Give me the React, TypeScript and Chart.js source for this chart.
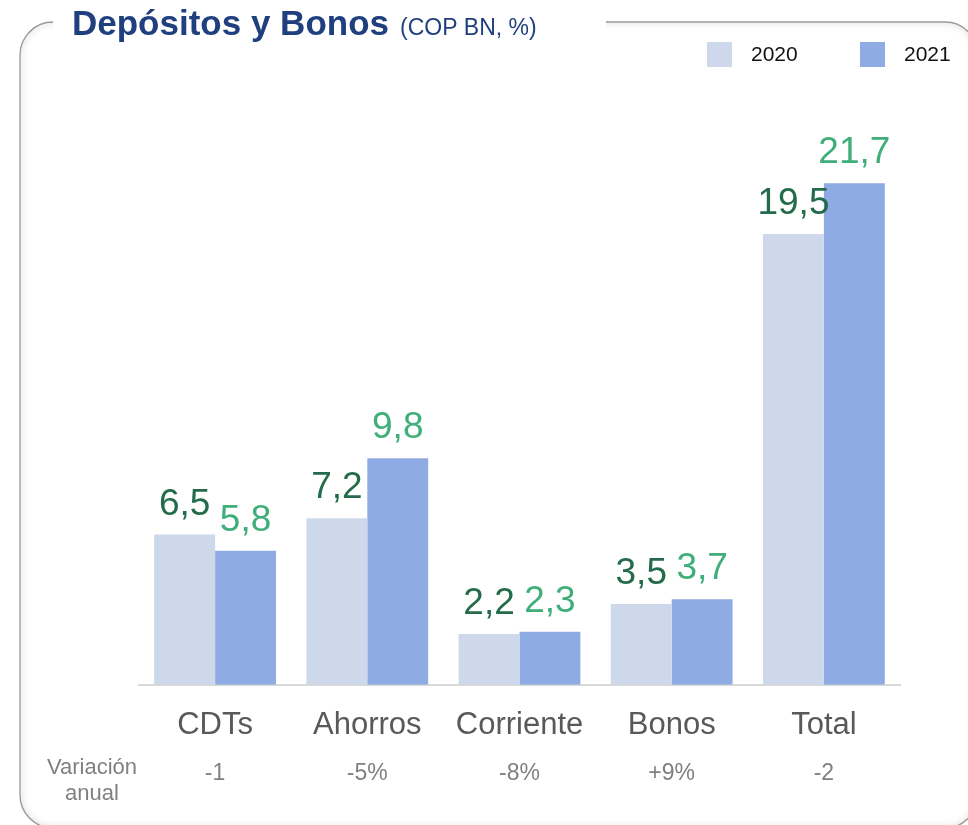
import React, { useEffect, useRef } from "react";
import { Chart, registerables } from "chart.js";

Chart.register(...registerables);

const categories = ["CDTs", "Ahorros", "Corriente", "Bonos", "Total"];
const values2020 = [6.5, 7.2, 2.2, 3.5, 19.5];
const values2021 = [5.8, 9.8, 2.3, 3.7, 21.7];
const variacion = ["-1", "-5%", "-8%", "+9%", "-2"];
const seriesLabels = ["2020", "2021"];
const titleMain = "Depósitos y Bonos";
const titleSub = "(COP BN, %)";
const rowLabel = ["Variación", "anual"];

const FONT = "'Liberation Sans', Arial, Helvetica, sans-serif";
const C2020 = "#CDD8EA";
const C2021 = "#8EACE3";
const L2020 = "#246B4B";
const L2021 = "#3FAE78";

function roundRectPath(ctx: CanvasRenderingContext2D, x: number, y: number, w: number, h: number, r: number) {
  ctx.beginPath();
  ctx.moveTo(x + r, y);
  ctx.lineTo(x + w - r, y);
  ctx.arcTo(x + w, y, x + w, y + r, r);
  ctx.lineTo(x + w, y + h - r);
  ctx.arcTo(x + w, y + h, x + w - r, y + h, r);
  ctx.lineTo(x + r, y + h);
  ctx.arcTo(x, y + h, x, y + h - r, r);
  ctx.lineTo(x, y + r);
  ctx.arcTo(x, y, x + r, y, r);
  ctx.closePath();
}

const framePlugin = {
  id: "frame",
  beforeDraw(chart: any) {
    const ctx: CanvasRenderingContext2D = chart.ctx;
    const bx = 20, by = 22, bw = 958, bh = 806, br = 33;
    ctx.save();
    ctx.fillStyle = "#ffffff";
    ctx.fillRect(0, 0, chart.width, chart.height);
    // inner shadow
    ctx.save();
    roundRectPath(ctx, bx, by, bw, bh, br);
    ctx.clip();
    ctx.shadowColor = "rgba(0,0,0,0.14)";
    ctx.shadowBlur = 10;
    ctx.lineWidth = 12;
    ctx.strokeStyle = "rgba(0,0,0,1)";
    roundRectPath(ctx, bx - 6, by - 6, bw + 12, bh + 12, br + 6);
    ctx.stroke();
    ctx.restore();
    // border line
    roundRectPath(ctx, bx, by, bw, bh, br);
    ctx.lineWidth = 1.3;
    ctx.strokeStyle = "#9A9A9A";
    ctx.stroke();
    // gap for title
    ctx.fillStyle = "#ffffff";
    ctx.fillRect(53, 0, 553, 45);
    ctx.restore();
  },
  afterDraw(chart: any) {
    const ctx: CanvasRenderingContext2D = chart.ctx;
    const xs = chart.scales.x;
    ctx.save();
    // title
    ctx.textBaseline = "alphabetic";
    ctx.textAlign = "left";
    ctx.fillStyle = "#1F3F7E";
    ctx.font = `bold 35px ${FONT}`;
    ctx.fillText(titleMain, 72, 35);
    const w = ctx.measureText(titleMain).width;
    ctx.font = `23px ${FONT}`;
    ctx.fillText(titleSub, 72 + w + 11, 35);

    // legend
    const colors = [C2020, C2021];
    const lx = [707, 860];
    chart.data.datasets.forEach((ds: any, i: number) => {
      ctx.fillStyle = colors[i];
      ctx.fillRect(lx[i], 42, 25, 25);
      ctx.fillStyle = "#111111";
      ctx.font = `21px ${FONT}`;
      ctx.textBaseline = "middle";
      ctx.fillText(ds.label, lx[i] + 44, 55);
    });

    // data labels
    ctx.textAlign = "center";
    ctx.textBaseline = "alphabetic";
    ctx.font = `37px ${FONT}`;
    const lcol = [L2020, L2021];
    chart.data.datasets.forEach((ds: any, di: number) => {
      const meta = chart.getDatasetMeta(di);
      meta.data.forEach((bar: any, i: number) => {
        ctx.fillStyle = lcol[di];
        ctx.fillText(String(ds.data[i]).replace(".", ","), bar.x, bar.y - 20);
      });
    });

    // variation row
    ctx.fillStyle = "#808080";
    ctx.font = `23px ${FONT}`;
    variacion.forEach((v, i) => {
      ctx.fillText(v, xs.getPixelForValue(i), 780);
    });
    ctx.font = `22px ${FONT}`;
    ctx.fillText(rowLabel[0], 92, 774);
    ctx.fillText(rowLabel[1], 92, 800);
    ctx.restore();
  },
};

export default function App() {
  const ref = useRef<HTMLCanvasElement | null>(null);
  useEffect(() => {
    if (!ref.current) return;
    const chart = new Chart(ref.current, {
      type: "bar",
      data: {
        labels: categories,
        datasets: [
          { label: seriesLabels[0], data: values2020, backgroundColor: C2020, categoryPercentage: 0.8, barPercentage: 1.0 },
          { label: seriesLabels[1], data: values2021, backgroundColor: C2021, categoryPercentage: 0.8, barPercentage: 1.0 },
        ],
      },
      options: {
        animation: false,
        responsive: false,
        maintainAspectRatio: false,
        devicePixelRatio: 1,
        layout: { padding: { left: 139, right: 68, top: 130, bottom: 59 } },
        plugins: { legend: { display: false }, tooltip: { enabled: false }, title: { display: false } },
        scales: {
          y: { display: false, min: 0, max: 24 },
          x: {
            grid: { display: false, drawTicks: false, tickLength: 0 },
            border: { display: true, color: "#D9D9D9", width: 2 },
            ticks: { color: "#595959", font: { family: FONT, size: 31 }, padding: 22 },
          },
        },
      },
      plugins: [framePlugin],
    });
    return () => chart.destroy();
  }, []);
  return (
    <div style={{ position: "fixed", left: 0, top: 0, width: 968, height: 825, background: "#fff" }}>
      <canvas ref={ref} width={968} height={825} style={{ display: "block", width: 968, height: 825 }} />
    </div>
  );
}
